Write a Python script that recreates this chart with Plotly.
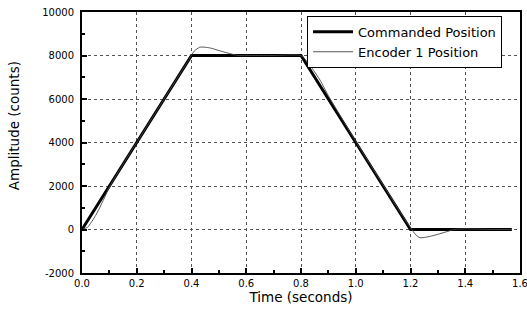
import plotly.graph_objects as go

# Commanded trapezoid profile
cmd_t = [0.0, 0.4, 0.8, 1.2, 1.57]
cmd_y = [0, 8000, 8000, 0, 0]

enc_t = [0.0, 0.02, 0.05, 0.08, 0.10, 0.15, 0.20, 0.30, 0.36, 0.39, 0.41, 0.43, 0.45, 0.47,
         0.50, 0.53, 0.57, 0.60, 0.70, 0.80, 0.82, 0.84, 0.87, 0.90, 1.00, 1.10, 1.17,
         1.20, 1.22, 1.235, 1.27, 1.30, 1.33, 1.36, 1.40, 1.50, 1.57]
enc_y = [0, 100, 650, 1400, 1950, 3000, 4000, 6000, 7200, 7800, 8200, 8380, 8380, 8340,
         8230, 8120, 8000, 8000, 8000, 8000, 7760, 7420, 6860, 6150, 4050, 2050, 650,
         80, -250, -380, -320, -220, -110, 0, 30, 0, 0]

x_ticks = [0.0, 0.2, 0.4, 0.6, 0.8, 1.0, 1.2, 1.4, 1.6]
x_ticklabels = ["0.0", "0.2", "0.4", "0.6", "0.8", "1.0", "1.2", "1.4", "1.6"]
y_ticks = [-2000, 0, 2000, 4000, 6000, 8000, 10000]
y_ticklabels = ["-2000", "0", "2000", "4000", "6000", "8000", "10000"]

FONT = "DejaVu Sans, Arial"

fig = go.Figure()
fig.add_trace(go.Scatter(x=cmd_t, y=cmd_y, mode="lines", name="Commanded Position",
                         line=dict(color="black", width=3)))
fig.add_trace(go.Scatter(x=enc_t, y=enc_y, mode="lines", name="Encoder 1 Position",
                         line=dict(color="#444444", width=0.9, shape="spline", smoothing=0.6)))

axis_common = dict(
    showline=True, linecolor="black", linewidth=2, mirror=True,
    ticks="inside", ticklen=5, tickcolor="black", tickwidth=1.5,
    showgrid=True, gridcolor="#555555", griddash="dot", gridwidth=1,
    zeroline=False, automargin=False, ticklabeloverflow="allow",
    tickfont=dict(family=FONT, size=10, color="black"),
)

fig.update_layout(
    width=527, height=313,
    margin=dict(l=82, r=7, t=12, b=40, autoexpand=False),
    paper_bgcolor="white", plot_bgcolor="white",
    font=dict(family=FONT, color="black"),
    showlegend=True,
    legend=dict(x=0.959, y=0.985, xanchor="right", yanchor="top",
                bgcolor="white", bordercolor="black", borderwidth=1,
                font=dict(size=13, family=FONT),
                tracegroupgap=0, itemwidth=40),
    xaxis=dict(range=[0, 1.6], tickvals=x_ticks, ticktext=x_ticklabels,
               minor=dict(dtick=0.1, ticks="inside", ticklen=3, tickcolor="black", showgrid=False),
               title=dict(text="Time (seconds)", font=dict(size=13.5, family=FONT), standoff=4),
               **axis_common),
    yaxis=dict(range=[-2000, 10000], tickvals=y_ticks, ticktext=y_ticklabels,
               ticklabelstandoff=4,
               minor=dict(dtick=1000, ticks="inside", ticklen=3, tickcolor="black", showgrid=False),
               **axis_common),
    annotations=[dict(text="Amplitude (counts)", xref="paper", yref="paper",
                      x=-0.155, y=0.563, xanchor="center", yanchor="middle",
                      textangle=-90, showarrow=False,
                      font=dict(size=13.5, family=FONT, color="black"))],
)

fig.write_html("out.html",
               config={"displayModeBar": False},
               post_script="document.body.style.margin='0';document.body.style.overflow='hidden';")
